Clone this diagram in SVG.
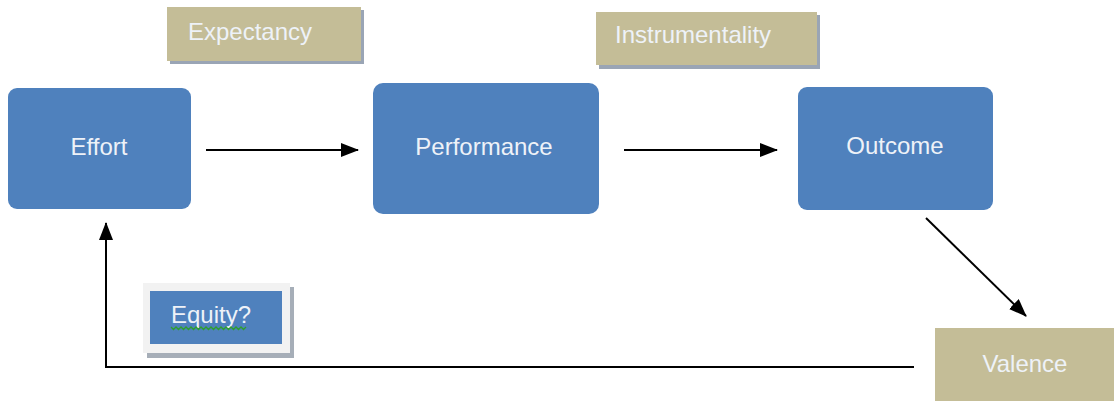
<svg xmlns="http://www.w3.org/2000/svg" width="1114" height="401" viewBox="0 0 1114 401">
<style>
.blue{fill:#4F81BD}
.tan{fill:#C4BD97}
.shadow{fill:#9AA5B5}
.lbl{font-family:"Liberation Sans",Arial,sans-serif;font-size:24px;fill:#EEF2F8}
.conn{stroke:#000;stroke-width:2;fill:none}
</style>
<defs>
<marker id="ah" markerWidth="18" markerHeight="14" refX="17" refY="7" orient="auto" markerUnits="userSpaceOnUse">
<path d="M0,0 L18,7 L0,14 Z" fill="#000"/>
</marker>
</defs>
<rect width="1114" height="401" fill="#fff"/>
<g id="expectancy">
<rect x="170" y="10" width="194" height="54" class="shadow"/>
<rect x="167" y="7" width="194" height="54" class="tan"/>
<text x="188" y="40" class="lbl">Expectancy</text>
</g>
<g id="instrumentality">
<rect x="599" y="15" width="221" height="54" class="shadow"/>
<rect x="596" y="12" width="221" height="53" class="tan"/>
<text x="615" y="43" class="lbl">Instrumentality</text>
</g>
<g id="effort">
<rect x="8" y="88" width="183" height="121" rx="9" class="blue"/>
<text x="99" y="155" text-anchor="middle" class="lbl">Effort</text>
</g>
<g id="performance">
<rect x="373" y="83" width="226" height="131" rx="10" class="blue"/>
<text x="484" y="155" text-anchor="middle" class="lbl">Performance</text>
</g>
<g id="outcome">
<rect x="798" y="87" width="195" height="123" rx="9" class="blue"/>
<text x="895" y="154" text-anchor="middle" class="lbl">Outcome</text>
</g>
<g id="equity">
<rect x="147" y="287" width="147" height="71" fill="#A6AEB8"/>
<rect x="143" y="283" width="147" height="70" fill="#F2F2F2"/>
<rect x="150" y="291" width="132" height="53" class="blue"/>
<text x="171" y="323" class="lbl">Equity?</text>
<path d="M171,327 l2.5,2.5 l2.5,-2.5 l2.5,2.5 l2.5,-2.5 l2.5,2.5 l2.5,-2.5 l2.5,2.5 l2.5,-2.5 l2.5,2.5 l2.5,-2.5 l2.5,2.5 l2.5,-2.5 l2.5,2.5 l2.5,-2.5 l2.5,2.5 l2.5,-2.5 l2.5,2.5 l2.5,-2.5 l2.5,2.5 l2.5,-2.5 l2.5,2.5 l2.5,-2.5 l2.5,2.5 l2.5,-2.5 l2.5,2.5 l2.5,-2.5 l2.5,2.5 l2.5,-2.5 l2.5,2.5 l2.5,-2.5" fill="none" stroke="#2E9E2E" stroke-width="1.3"/>
</g>
<g id="valence">
<rect x="935" y="328" width="179" height="73" class="tan"/>
<text x="1025" y="372" text-anchor="middle" class="lbl">Valence</text>
</g>
<g id="connectors">
<line x1="206" y1="150" x2="358" y2="150" class="conn" marker-end="url(#ah)"/>
<line x1="624" y1="150" x2="777" y2="150" class="conn" marker-end="url(#ah)"/>
<line x1="926" y1="218" x2="1026" y2="316" class="conn" marker-end="url(#ah)"/>
<polyline points="914,367 106,367 106,223" class="conn" marker-end="url(#ah)"/>
</g>
</svg>
